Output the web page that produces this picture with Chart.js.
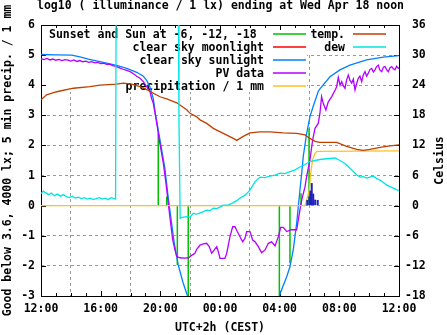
<!DOCTYPE html>
<html>
<head>
<meta charset="utf-8">
<script src="https://cdn.jsdelivr.net/npm/chart.js@4"></script>
<style>
  html, body { margin: 0; padding: 0; background: #fff; }
  canvas { display: block; }
</style>
</head>
<body>
<canvas id="c" width="447" height="335" style="width:447px;height:335px"></canvas>
<script>
// x values are hours after noon (Tue 12:00 .. Wed 12:00)
const timeLabels = ['12:00', '16:00', '20:00', '00:00', '04:00', '08:00', '12:00'];

// sunset / sunrise and sun at -6, -12, -18 deg, drawn as impulses [hour, log10 lx]
const sunEvents = [[7.86, 2.4], [8.43, 0.3], [9.14, -1.97], [9.87, -3.05],
                   [15.98, -3.05], [16.69, -1.91], [17.43, 0.41], [17.97, 2.57]];

// clear sky moonlight model stays below the plotted range
const moonlightLog = [];

// clear sky sunlight model [hour, log10 lx]
const clearSkyLog = [
  [0, 5.02], [1.0, 5.01], [2.06, 5.0], [2.61, 4.94], [3.17, 4.87], [4.18, 4.76], [5.07, 4.66],
  [5.75, 4.56], [6.42, 4.43], [6.86, 4.3], [7.09, 4.15], [7.31, 3.93], [7.53, 3.55], [7.68, 3.02],
  [7.98, 2.18], [8.31, 1.22], [8.51, 0.35], [8.72, -0.45], [8.92, -1.2], [9.19, -1.95], [9.52, -2.55],
  [9.79, -2.95], [10.1, -3.4], [10.6, -4.0], [11.5, -4.6], [13.0, -4.9], [14.5, -4.6], [15.4, -4.0],
  [15.75, -3.45], [16.02, -2.93], [16.47, -2.36], [16.69, -2.03], [16.91, -1.47], [17.14, -0.58],
  [17.25, -0.03], [17.36, 0.52], [17.48, 1.08], [17.58, 1.63], [17.81, 2.4], [18.03, 2.96],
  [18.25, 3.3], [18.59, 3.8], [18.7, 3.88], [19.37, 4.28], [20.04, 4.51], [20.71, 4.67],
  [21.83, 4.84], [22.95, 4.93], [24, 4.98]
];

// PV panel derived illuminance [hour, log10 lx]
const pvLog = [
  [0, 4.88], [0.2, 4.85], [0.4, 4.89], [0.6, 4.84], [0.8, 4.87], [1.0, 4.83], [1.2, 4.86], [1.4, 4.82],
  [1.6, 4.85], [1.8, 4.83], [2.0, 4.80], [2.2, 4.84], [2.4, 4.79], [2.6, 4.82], [2.8, 4.78], [3.0, 4.80],
  [3.2, 4.76], [3.4, 4.78], [3.6, 4.74], [3.8, 4.76], [4.0, 4.72], [4.2, 4.73], [4.4, 4.69], [4.6, 4.70],
  [4.8, 4.65], [5.07, 4.62], [5.3, 4.57], [5.5, 4.53], [5.75, 4.49], [5.97, 4.45], [6.2, 4.38],
  [6.42, 4.3], [6.64, 4.23], [6.86, 4.12], [7.09, 3.95], [7.2, 3.86], [7.31, 3.78], [7.42, 3.55],
  [7.53, 3.4], [7.76, 2.74], [7.93, 2.18], [8.2, 1.41], [8.38, 0.74], [8.53, 0.08], [8.69, -0.58],
  [8.83, -1.14], [8.98, -1.47], [9.1, -1.69], [9.32, -1.73], [9.6, -1.74], [9.9, -1.73], [10.1, -1.65],
  [10.32, -1.58], [10.44, -1.45], [10.66, -1.31], [10.88, -1.27], [11.1, -1.25], [11.28, -1.36],
  [11.44, -1.58], [11.62, -1.47], [11.78, -1.36], [11.89, -1.53], [12.0, -1.75], [12.33, -1.75],
  [12.45, -1.58], [12.67, -1.03], [12.85, -0.7], [13.0, -0.7], [13.16, -0.86], [13.34, -1.03],
  [13.52, -1.2], [13.67, -1.09], [13.79, -0.86], [14.01, -0.86], [14.19, -1.14], [14.35, -1.2],
  [14.57, -1.36], [14.79, -1.56], [15.02, -1.47], [15.24, -1.25], [15.46, -1.2], [15.69, -1.34],
  [15.91, -1.03], [16.07, -0.72], [16.24, -0.72], [16.47, -0.86], [16.8, -0.8], [17.14, -0.8],
  [17.25, -0.47], [17.36, -0.14], [17.48, 0.19], [17.7, 0.63], [17.85, 1.08], [18.03, 1.52],
  [18.21, 2.18], [18.37, 2.57], [18.59, 2.74], [18.7, 3.07], [18.81, 3.62], [18.92, 3.4], [19.1, 3.18],
  [19.26, 3.45], [19.49, 3.62], [19.72, 3.84], [19.82, 3.95], [19.93, 4.26], [20.05, 4.0], [20.16, 4.12],
  [20.27, 3.98], [20.38, 3.9], [20.49, 4.18], [20.6, 4.34], [20.72, 4.15], [20.83, 4.07], [20.94, 4.2],
  [21.05, 3.84], [21.16, 4.05], [21.27, 4.23], [21.38, 4.3], [21.5, 4.12], [21.61, 4.35], [21.72, 4.45],
  [21.83, 4.3], [21.94, 4.4], [22.05, 4.52], [22.17, 4.56], [22.28, 4.44], [22.39, 4.51], [22.5, 4.62],
  [22.61, 4.67], [22.72, 4.5], [22.84, 4.45], [22.95, 4.6], [23.06, 4.62], [23.17, 4.52], [23.28, 4.45],
  [23.4, 4.58], [23.51, 4.62], [23.62, 4.55], [23.73, 4.51], [23.84, 4.63], [23.95, 4.56], [24, 4.58]
];

// accumulated precipitation [hour, mm]
const rainTotal = [[0, 0], [17.7, 0], [17.81, 0.19], [17.99, 0.52], [18.08, 1.08], [18.21, 1.52],
                   [18.37, 1.74], [18.48, 1.8], [24, 1.82]];

// precipitation per 5 minutes [hour, mm]
const rain5min = [[17.85, 0.19], [17.99, 0.3], [18.07, 0.5], [18.15, 0.75], [18.25, 0.4],
                  [18.38, 0.2], [18.55, 0.19]];

// air temperature [hour, Celsius]
const tempC = [
  [0, 21.1], [0.38, 22.1], [1.05, 22.7], [2.17, 23.4], [3.28, 23.7], [3.95, 24.0], [5.07, 24.2],
  [5.52, 24.4], [6.08, 24.2], [6.64, 23.7], [7.31, 22.8], [7.53, 22.4], [7.98, 21.7], [8.43, 21.3],
  [9.1, 20.5], [9.77, 19.1], [9.99, 18.4], [10.44, 17.7], [10.66, 17.1], [11.11, 16.4], [11.55, 15.4],
  [12.22, 14.4], [12.89, 13.4], [13.12, 13.0], [13.56, 13.8], [14.01, 14.5], [14.68, 14.7],
  [15.35, 14.7], [16.24, 14.5], [17.14, 14.4], [17.7, 14.1], [18.03, 13.4], [18.37, 12.8],
  [18.7, 12.6], [19.82, 12.6], [20.49, 11.8], [21.16, 11.2], [21.61, 11.0], [22.06, 11.2],
  [22.73, 11.6], [23.4, 11.9], [24, 12.1]
];

// dew point [hour, Celsius]; the sensor ran off scale in the early evening
const dewC = [
  [0, 2.4], [0.15, 2.9], [0.3, 2.6], [0.5, 2.2], [0.7, 2.5], [0.9, 2.0], [1.1, 2.3], [1.3, 1.9],
  [1.5, 2.2], [1.7, 1.8], [1.9, 1.6], [2.1, 1.9], [2.3, 1.5], [2.5, 1.7], [2.7, 1.4], [2.9, 1.6],
  [3.1, 1.3], [3.3, 1.5], [3.5, 1.2], [3.7, 1.4], [3.9, 1.6], [4.1, 1.3], [4.3, 1.5], [4.5, 1.2],
  [4.7, 1.6], [4.9, 1.4], [5.0, 1.3], [5.04, 45], [9.2, 45], [9.25, 16.7], [9.33, -2.5],
  [9.55, -2.3], [9.77, -2.2], [9.99, -2.3], [10.21, -1.5], [10.38, -1.7], [10.55, -1.6],
  [10.88, -1.2], [11.11, -0.9], [11.33, -1.0], [11.55, -0.5], [11.78, -0.6], [12.0, -0.3],
  [12.22, 0.1], [12.56, 0.1], [12.89, 0.6], [13.12, 1.0], [13.34, 1.5], [13.68, 2.1], [14.01, 3.1],
  [14.35, 4.8], [14.68, 5.7], [15.0, 5.6], [15.35, 5.9], [15.7, 6.1], [16.02, 6.5], [16.35, 6.4],
  [16.69, 6.8], [17.0, 7.1], [17.36, 7.7], [17.7, 8.2], [18.03, 8.8], [18.37, 9.0], [18.7, 9.2],
  [19.0, 9.3], [19.37, 9.4], [19.72, 9.5], [20.04, 9.0], [20.27, 8.6], [20.49, 8.1], [20.72, 7.4],
  [20.94, 6.8], [21.17, 6.1], [21.39, 5.7], [21.61, 5.8], [21.83, 5.5], [22.06, 5.7], [22.28, 5.9],
  [22.5, 5.4], [22.73, 5.1], [22.95, 4.6], [23.17, 4.1], [23.4, 3.8], [23.62, 3.5], [23.84, 3.2],
  [24, 3.0]
];

const keyLeft = ['Sunset and Sun at -6, -12, -18', 'clear sky moonlight', 'clear sky sunlight',
                 'PV data', 'precipitation / 1 mm'];
const keyRight = ['temp.', 'dew'];

const FONT_FAMILY = "'DejaVu Sans Mono'";
const FONT = 'bold 11.5px ' + FONT_FAMILY;

const pts = a => a.map(p => ({ x: p[0], y: p[1] }));

Chart.defaults.font.family = FONT_FAMILY;
Chart.defaults.font.size = 11.5;
Chart.defaults.font.weight = 'bold';
Chart.defaults.color = '#000';

const lineStyle = { type: 'line', borderWidth: 1.3, pointRadius: 0, tension: 0, fill: false };

const gridColor = edgeValues => ctx =>
  (ctx.tick && edgeValues.includes(ctx.tick.value)) ? 'rgba(0,0,0,0)' : '#999999';

// frame, inward tics and the key box (grid hidden behind the key text)
const frame = {
  id: 'frame',
  beforeDatasetsDraw(chart) {
    const { ctx, chartArea: a, scales } = chart;
    ctx.save();
    ctx.fillStyle = '#fff';
    ctx.fillRect(a.left + 1, a.top + 1, 307 - a.left - 1, 92 - a.top - 1);
    ctx.fillRect(307, a.top + 1, a.right - 308, 53 - a.top - 1);

    ctx.strokeStyle = '#000';
    ctx.lineWidth = 1;
    ctx.strokeRect(a.left + 0.5, a.top + 0.5, a.right - a.left, a.bottom - a.top);

    ctx.beginPath();
    scales.y.ticks.forEach(t => {
      const py = Math.round(scales.y.getPixelForValue(t.value)) + 0.5;
      ctx.moveTo(a.left, py); ctx.lineTo(a.left + 5, py);
    });
    scales.y2.ticks.forEach(t => {
      const py = Math.round(scales.y2.getPixelForValue(t.value)) + 0.5;
      ctx.moveTo(a.right, py); ctx.lineTo(a.right - 5, py);
    });
    for (let h = scales.x.min; h <= scales.x.max; h++) {
      const px = Math.round(scales.x.getPixelForValue(h)) + 0.5;
      const len = h % 4 === 0 ? 5 : 3;
      ctx.moveTo(px, a.bottom); ctx.lineTo(px, a.bottom - len);
      ctx.moveTo(px, a.top); ctx.lineTo(px, a.top + len);
    }
    ctx.stroke();

    // key
    ctx.font = FONT;
    ctx.textBaseline = 'middle';
    ctx.lineWidth = 1.3;
    const drawKey = (labels, textX, x0, x1, align) => {
      labels.forEach((label, i) => {
        const ds = chart.data.datasets.find(d => d.label === label);
        const ry = 34 + i * 13;
        ctx.fillStyle = '#000';
        ctx.textAlign = align(i);
        ctx.fillText(label, textX(i), ry + 1.3);
        ctx.strokeStyle = ds.borderColor || ds.backgroundColor;
        ctx.beginPath();
        ctx.moveTo(x0, ry); ctx.lineTo(x1, ry);
        ctx.stroke();
      });
    };
    drawKey(keyLeft, i => (i === 0 ? 49 : 264), 273, 306, i => (i === 0 ? 'left' : 'right'));
    drawKey(keyRight, () => 345, 353, 386, () => 'right');
    ctx.restore();
  },
  afterDraw(chart) {
    const { ctx, chartArea: a } = chart;
    ctx.save();
    ctx.font = FONT;
    ctx.fillStyle = '#000';
    ctx.textAlign = 'center';
    ctx.textBaseline = 'middle';
    ctx.fillText('log10 ( illuminance / 1 lx) ending at Wed Apr 18 noon', 220.5, 6.5);
    const midY = (a.top + a.bottom) / 2;
    ctx.translate(8, midY);
    ctx.rotate(-Math.PI / 2);
    ctx.fillText('Good below 3.6, 4000 lx; 5 min precip. / 1 mm', 0, 0);
    ctx.setTransform(1, 0, 0, 1, 0, 0);
    ctx.translate(440, midY);
    ctx.rotate(-Math.PI / 2);
    ctx.fillText('Celsius', 0, 0);
    ctx.restore();
  }
};

new Chart(document.getElementById('c'), {
  type: 'line',
  data: {
    datasets: [
      { type: 'bar', label: keyLeft[0], data: pts(sunEvents), backgroundColor: '#00c000',
        borderColor: '#00c000', barThickness: 1.5, inflateAmount: 0, borderWidth: 0,
        stack: 'impulses', yAxisID: 'y', order: 8 },
      { ...lineStyle, label: keyLeft[1], data: pts(moonlightLog), borderColor: '#ff0000', yAxisID: 'y', order: 7 },
      { ...lineStyle, label: keyLeft[2], data: pts(clearSkyLog), borderColor: '#0080ff', yAxisID: 'y', order: 6 },
      { ...lineStyle, label: keyLeft[3], data: pts(pvLog), borderColor: '#b400ff', yAxisID: 'y', order: 5 },
      { ...lineStyle, label: keyLeft[4], data: pts(rainTotal), borderColor: '#ffc020', yAxisID: 'y', order: 4 },
      { ...lineStyle, label: keyRight[0], data: pts(tempC), borderColor: '#c04000', yAxisID: 'y2', order: 3 },
      { ...lineStyle, label: keyRight[1], data: pts(dewC), borderColor: '#00e5e5', yAxisID: 'y2', order: 2 },
      { type: 'bar', label: '5 min precip.', data: pts(rain5min), backgroundColor: '#2020c0',
        barThickness: 2, inflateAmount: 0, borderWidth: 0, stack: 'impulses', yAxisID: 'y', order: 1 }
    ]
  },
  options: {
    responsive: false,
    animation: false,
    devicePixelRatio: 1,
    layout: { padding: { top: 25, left: 0, right: 0, bottom: 0 } },
    plugins: { legend: { display: false }, title: { display: false }, tooltip: { enabled: false } },
    scales: {
      x: {
        type: 'linear', min: 0, max: 24, offset: false,
        ticks: { stepSize: 4, autoSkip: false, maxRotation: 0, padding: 6,
                 callback: (v, i) => timeLabels[i] },
        grid: { color: gridColor([0, 24]), drawTicks: false, lineWidth: 1 },
        border: { display: false, dash: [3, 3] },
        title: { display: true, text: 'UTC+2h (CEST)', padding: { top: 0, bottom: 0 } },
        afterFit: s => { s.height = 39; }
      },
      y: {
        type: 'linear', position: 'left', min: -3, max: 6,
        ticks: { stepSize: 1, autoSkip: false, padding: 6 },
        grid: { color: gridColor([-3, 6]), drawTicks: false, lineWidth: 1 },
        border: { display: false, dash: [3, 3] },
        afterFit: s => { s.width = 41; }
      },
      y2: {
        type: 'linear', position: 'right', min: -18, max: 36,
        ticks: { stepSize: 6, autoSkip: false, padding: 6,
                 callback: v => (v >= 0 ? ' ' : '') + v },
        grid: { display: false, drawTicks: false },
        border: { display: false },
        afterFit: s => { s.width = 48; }
      }
    }
  },
  plugins: [frame]
});
</script>
</body>
</html>
